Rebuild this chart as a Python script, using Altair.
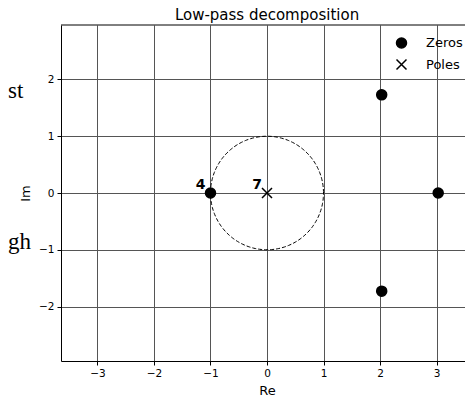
import altair as alt
import numpy as np
import pandas as pd

# Data
zeros_re = [-1.0, 2.03, 2.03, 3.03]
zeros_im = [0.0, 1.73, -1.73, 0.0]
poles_re = [0.0]
poles_im = [0.0]
mult_re = [-1.0, 0.0]
mult_im = [0.0, 0.0]
mult_text = ["4", "7"]
x_ticks = [-3, -2, -1, 0, 1, 2, 3]
y_ticks = [-2, -1, 0, 1, 2]

FONT = "DejaVu Sans"
XDOM = [-3.646, 3.646]
YDOM = [-2.96, 2.96]
W, H = 412, 336

pts = pd.DataFrame({
    "re": zeros_re + poles_re,
    "im": zeros_im + poles_im,
    "kind": ["Zeros"] * len(zeros_re) + ["Poles"] * len(poles_re),
})
mult = pd.DataFrame({"re": mult_re, "im": mult_im, "t": mult_text})

# unit circle (reference geometry)
th = np.linspace(0, 2 * np.pi, 241)
circ = pd.DataFrame({"re": np.cos(th), "im": np.sin(th), "o": np.arange(len(th))})

xs = alt.Scale(domain=XDOM, nice=False, zero=False)
ys = alt.Scale(domain=YDOM, nice=False, zero=False)
xax = alt.Axis(values=x_ticks, title="Re", format="d")
yax = alt.Axis(values=y_ticks, title="Im", format="d")

circle = alt.Chart(circ).mark_line(
    color="black", strokeWidth=1, strokeDash=[4, 2]
).encode(
    x=alt.X("re:Q", scale=xs, axis=xax),
    y=alt.Y("im:Q", scale=ys, axis=yax),
    order="o:Q",
)

kinds = ["Zeros", "Poles"]
leg = dict(title=None, orient="none", legendX=334, legendY=11.5)
points = alt.Chart(pts).mark_point(opacity=1, strokeWidth=1.5, size=100).encode(
    x=alt.X("re:Q", scale=xs, axis=xax),
    y=alt.Y("im:Q", scale=ys, axis=yax),
    shape=alt.Shape("kind:N", scale=alt.Scale(domain=kinds, range=["circle", "M-1,-1L1,1M-1,1L1,-1"]),
                    legend=alt.Legend(labelFont=FONT, labelFontSize=13, labelColor="black",
                                      symbolSize=100, symbolStrokeWidth=1.5, rowPadding=4.5,
                                      labelOffset=18, padding=0, **leg)),
    fill=alt.Fill("kind:N", scale=alt.Scale(domain=kinds, range=["black", "transparent"]), legend=alt.Legend(**leg)),
    stroke=alt.Stroke("kind:N", scale=alt.Scale(domain=kinds, range=["black", "black"]), legend=alt.Legend(**leg)),
)

labels = alt.Chart(mult).mark_text(
    align="right", baseline="alphabetic", dx=-5, dy=-4,
    font=FONT, fontSize=14, fontWeight="bold", color="black"
).encode(
    x=alt.X("re:Q", scale=xs, axis=xax),
    y=alt.Y("im:Q", scale=ys, axis=yax),
    text="t:N",
)

# top frame line of the axes box
top_frame = alt.Chart(pd.DataFrame({"a": [0]})).mark_rule(color="black", strokeWidth=1).encode(
    x=alt.value(0), x2=alt.value(W), y=alt.value(0)
)

# fragments of surrounding page text visible at the left edge
side = pd.DataFrame({"t": ["st", "gh"], "px": [-53, -53], "py": [73, 224]})
side_text = alt.Chart(side).mark_text(
    align="left", baseline="alphabetic", font="Liberation Serif", fontSize=23, color="black"
).encode(
    x=alt.X("px:Q", scale=None),
    y=alt.Y("py:Q", scale=None),
    text="t:N",
)

chart = alt.layer(circle, points, labels, top_frame, side_text).properties(
    width=W, height=H,
    title=alt.Title("Low-pass decomposition", font=FONT, fontSize=15, fontWeight="normal",
                    color="black", anchor="middle", offset=2),
    autosize=alt.AutoSizeParams(type="none"),
    padding={"left": 53, "top": 17, "right": -8, "bottom": 38},
).configure_view(
    strokeWidth=0
).configure_axis(
    labelFont=FONT, labelFontSize=10.5, labelColor="black",
    titleFont=FONT, titleFontSize=13, titleFontWeight="normal", titleColor="black",
    tickColor="black", tickSize=4, tickWidth=1,
    grid=True, gridColor="#555555", gridWidth=1, gridOpacity=1,
    domain=True, domainColor="black", domainWidth=1, labelPadding=3,
).configure_axisY(titlePadding=6).configure_axisX(titlePadding=6)

chart.save("out.html", embed_options={"renderer": "svg", "actions": False})
